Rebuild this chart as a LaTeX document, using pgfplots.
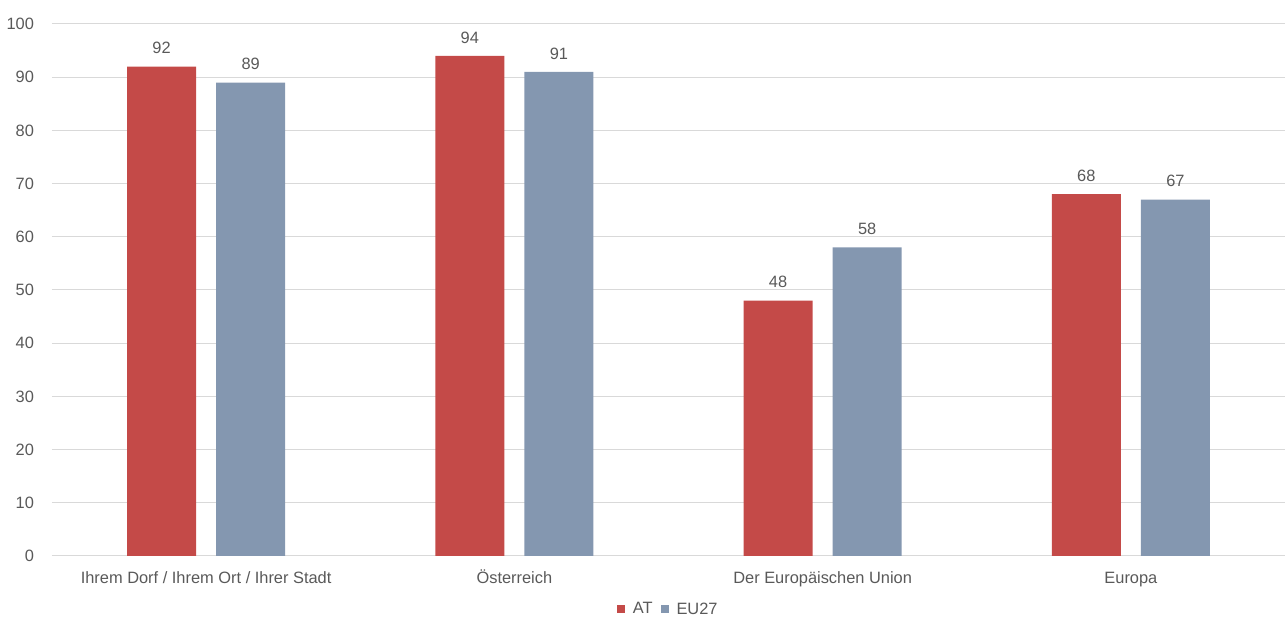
\documentclass[border=0pt]{standalone}
\usepackage{pgfplots}
\pgfplotsset{compat=1.18}
\usepackage{fontspec}
\setmainfont{Liberation Sans}
\definecolor{atred}{RGB}{196,74,72}
\definecolor{eublue}{RGB}{132,151,176}
\definecolor{txt}{RGB}{89,89,89}
\definecolor{gridc}{RGB}{217,217,217}
\begin{document}
\begin{tikzpicture}
\begin{axis}[
  at={(0pt,0pt)}, anchor=south west,
  scale only axis,
  width=924.75pt, height=399pt,
  ymin=0, ymax=100,
  xmin=-0.5, xmax=3.5,
  ytick={0,10,...,100},
  xtick={0,1,2,3},
  xticklabels={Ihrem Dorf / Ihrem Ort / Ihrer Stadt, Österreich, Der Europäischen Union, Europa},
  axis line style={draw=none},
  ymajorgrids, xmajorgrids=false,
  grid style={draw=gridc, line width=0.75pt},
  major tick length=0pt,
  tick style={draw=none},
  font=\fontsize{12.3pt}{14pt}\selectfont,
  ticklabel style={text=txt, font=\fontsize{12.3pt}{14pt}\selectfont},
  yticklabel style={xshift=-10pt},
  xticklabel style={yshift=-8pt, text height=9pt, text depth=2.5pt},
  /pgf/number format/assume math mode=true,
  ybar, bar width=51.75pt,
  nodes near coords,
  every node near coord/.append style={text=txt, font=\fontsize{12.3pt}{14pt}\selectfont, yshift=6pt},
  legend style={at={(axis description cs:0.5,0)}, anchor=center, yshift=-40pt, draw=none, font=\fontsize{12.3pt}{14pt}\selectfont, text=txt, column sep=4pt, inner sep=0pt},
  legend columns=2,
  legend image code/.code={\fill[#1] (0pt,-3pt) rectangle (6pt,3pt);},
  clip=false,
]
\addplot[fill=atred, draw=none, bar shift=-33.4pt] coordinates {(0,92) (1,94) (2,48) (3,68)};
\addplot[fill=eublue, draw=none, bar shift=33.4pt] coordinates {(0,89) (1,91) (2,58) (3,67)};
\legend{AT, EU27}
\end{axis}
\pgfresetboundingbox
\path[use as bounding box] (-39pt,-45.75pt) rectangle (924.75pt,417pt);
\end{tikzpicture}
\end{document}
